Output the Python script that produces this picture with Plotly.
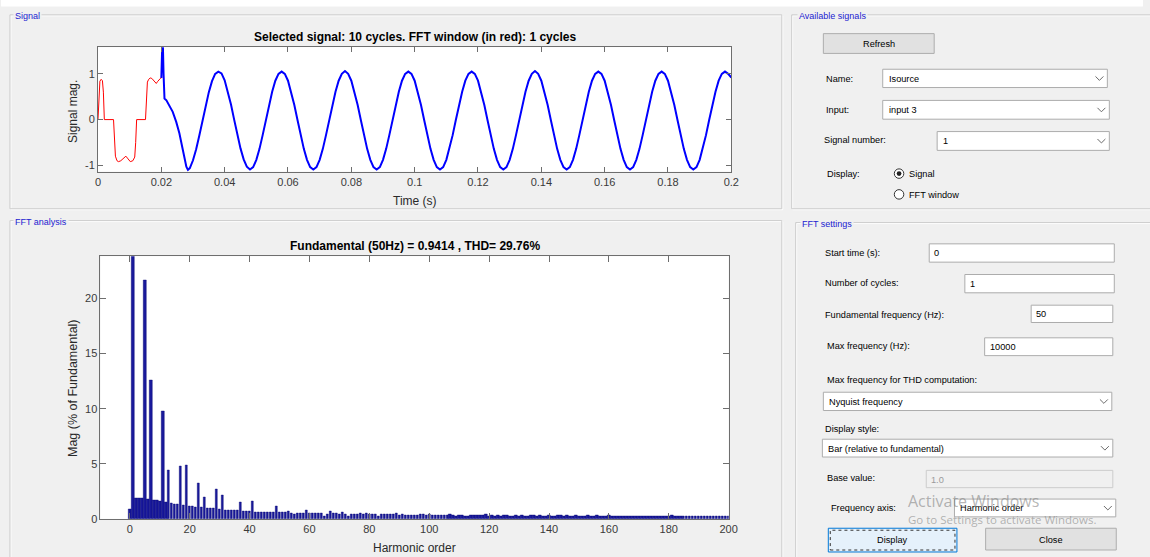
import plotly.graph_objects as go

# ---------------- data ----------------
# FFT window (red), time in s
win_t = [0, 0.0003, 0.0006, 0.001, 0.0014, 0.0017, 0.002, 0.0049, 0.0052, 0.0055,
         0.006, 0.0065, 0.0072, 0.008, 0.0088, 0.0095, 0.0102, 0.011, 0.0116, 0.0119,
         0.0122, 0.015, 0.0153, 0.0156, 0.016, 0.0165, 0.017, 0.0175, 0.018, 0.0184,
         0.0188, 0.0193, 0.0197, 0.02]
win_v = [0, 0.6, 0.84, 0.88, 0.85, 0.6, 0, 0, -0.5, -0.8,
         -0.9, -0.92, -0.9, -0.84, -0.8, -0.86, -0.92, -0.9, -0.82, -0.5,
         0, 0, 0.5, 0.82, 0.88, 0.91, 0.9, 0.86, 0.8, 0.79,
         0.83, 0.88, 0.9, 0.91]

# transient part of the selected signal (blue)
trans_t = [0.02, 0.0202, 0.0204, 0.0207, 0.021, 0.0216, 0.0226, 0.0236, 0.0247, 0.0257,
           0.0266, 0.0273, 0.0279, 0.0284]
trans_v = [0.91, 1.7, 1.9, 1.0, 0.46, 0.42, 0.31, 0.17, -0.05, -0.3,
           -0.6, -0.85, -1.03, -1.1]

# steady part of the selected signal, sampled every 1 ms from 0.029 s to 0.200 s
steady_start = 0.029
steady_dt = 0.001
steady_v = [
    -1.06, -0.89, -0.65, -0.35, -0.02, 0.31, 0.60, 0.84, 1.00, 1.05, 1.01, 0.86, 0.62, 0.33, 0.00, -0.33, -0.63, -0.87, -1.03,
    -1.09, -1.04, -0.88, -0.64, -0.34, -0.01, 0.32, 0.61, 0.85, 1.00, 1.05, 1.00, 0.85, 0.61, 0.32, -0.01, -0.34, -0.64, -0.88, -1.04,
    -1.09, -1.04, -0.88, -0.64, -0.34, -0.01, 0.32, 0.61, 0.85, 1.00, 1.06, 1.00, 0.85, 0.61, 0.32, -0.01, -0.34, -0.64, -0.88, -1.04,
    -1.09, -1.04, -0.88, -0.64, -0.34, -0.01, 0.32, 0.61, 0.85, 1.00, 1.05, 1.00, 0.85, 0.61, 0.32, -0.01, -0.34, -0.64, -0.88, -1.04,
    -1.09, -1.04, -0.88, -0.64, -0.34, -0.01, 0.32, 0.61, 0.85, 1.00, 1.05, 1.00, 0.85, 0.61, 0.32, -0.01, -0.34, -0.64, -0.88, -1.04,
    -1.09, -1.04, -0.88, -0.64, -0.34, -0.01, 0.32, 0.61, 0.85, 1.00, 1.06, 1.00, 0.85, 0.61, 0.32, -0.01, -0.34, -0.64, -0.88, -1.04,
    -1.09, -1.04, -0.88, -0.64, -0.34, -0.01, 0.32, 0.61, 0.85, 1.00, 1.05, 1.00, 0.85, 0.61, 0.32, -0.01, -0.34, -0.64, -0.88, -1.04,
    -1.09, -1.04, -0.88, -0.64, -0.34, -0.01, 0.32, 0.61, 0.85, 1.00, 1.05, 1.00, 0.85, 0.61, 0.32, -0.01, -0.34, -0.64, -0.88, -1.04,
    -1.09, -1.04, -0.88, -0.64, -0.34, -0.01, 0.32, 0.61, 0.85, 1.00, 1.05, 1.00, 0.92,
]

time_ticks = [0, 0.02, 0.04, 0.06, 0.08, 0.1, 0.12, 0.14, 0.16, 0.18, 0.2]
time_ticklabels = ["0", "0.02", "0.04", "0.06", "0.08", "0.1", "0.12", "0.14", "0.16", "0.18", "0.2"]
signal_ticks = [-1, 0, 1]
signal_ticklabels = ["-1", "0", "1"]

# harmonic magnitudes (% of fundamental), orders 0..200
harm_mag = [
    0.9, 100, 1.85, 1.85, 1.83, 21.7, 1.75, 12.6, 1.68, 1.65,
    1.6, 9.8, 1.5, 4.45, 1.4, 1.37, 1.32, 4.75, 1.25, 4.9,
    1.15, 1.13, 1.1, 3.25, 1.03, 1.92, 0.95, 0.93, 0.93, 2.7,
    0.85, 2.18, 0.82, 0.82, 0.8, 0.8, 0.76, 1.5, 0.7, 0.7,
    0.68, 1.6, 0.6, 0.6, 0.62, 0.62, 0.6, 0.6, 0.58, 1.12,
    0.6, 0.58, 0.6, 0.65, 0.55, 0.4, 0.5, 0.52, 0.5, 0.8,
    0.55, 0.55, 0.5, 0.5, 0.48, 0.25, 0.45, 0.7, 0.48, 0.5,
    0.45, 0.62, 0.4, 0.28, 0.45, 0.42, 0.42, 0.5, 0.4, 0.52,
    0.4, 0.42, 0.38, 0.25, 0.38, 0.42, 0.4, 0.38, 0.38, 0.55,
    0.32, 0.38, 0.35, 0.35, 0.33, 0.35, 0.3, 0.45, 0.38, 0.35,
    0.38, 0.33, 0.35, 0.3, 0.32, 0.35, 0.33, 0.42, 0.3, 0.28,
    0.3, 0.3, 0.22, 0.28, 0.32, 0.3, 0.35, 0.3, 0.3, 0.4,
    0.22, 0.3, 0.28, 0.3, 0.28, 0.3, 0.32, 0.28, 0.25, 0.3,
    0.28, 0.3, 0.22, 0.28, 0.3, 0.35, 0.28, 0.3, 0.25, 0.28,
    0.3, 0.22, 0.28, 0.35, 0.3, 0.28, 0.3, 0.28, 0.26, 0.3,
    0.28, 0.27, 0.28, 0.3, 0.26, 0.28, 0.3, 0.27, 0.26, 0.28,
    0.3, 0.22, 0.28, 0.25, 0.27, 0.26, 0.28, 0.25, 0.26, 0.28,
    0.2, 0.26, 0.25, 0.27, 0.25, 0.24, 0.26, 0.25, 0.24, 0.26,
    0.25, 0.3, 0.24, 0.25, 0.24, 0.26, 0.24, 0.25, 0.24, 0.23,
    0.25, 0.24, 0.23, 0.25, 0.24, 0.23, 0.24, 0.23, 0.24, 0.23,
    0.22,
]
harm_order = list(range(len(harm_mag)))
harm_ticks = [0, 20, 40, 60, 80, 100, 120, 140, 160, 180, 200]
mag_ticks = [0, 5, 10, 15, 20]

signal_title = "Selected signal: 10 cycles. FFT window (in red): 1 cycles"
fft_title = "Fundamental (50Hz) = 0.9414 , THD= 29.76%"

# ---------------- geometry helpers ----------------
W, H = 1150, 557
def X(px):
    return px / W
def Y(py):
    return 1 - py / H

steady_t = [round(steady_start + steady_dt * i, 4) for i in range(len(steady_v))]
sig_t = trans_t + steady_t
sig_v = trans_v + steady_v

AX_FONT = "Liberation Sans, Arial, sans-serif"
GUI_FONT = "Liberation Sans, Arial, sans-serif"
BG = "#f0f0f0"

fig = go.Figure()
fig.add_trace(go.Scatter(x=sig_t, y=sig_v, mode="lines", line=dict(color="#0000ff", width=2),
                         xaxis="x", yaxis="y", showlegend=False, hoverinfo="skip"))
fig.add_trace(go.Scatter(x=win_t, y=win_v, mode="lines", line=dict(color="#ff0000", width=1),
                         xaxis="x", yaxis="y", showlegend=False, hoverinfo="skip"))
fig.add_trace(go.Bar(x=harm_order, y=harm_mag, width=0.82,
                     marker=dict(color="#1a1a9c", line=dict(width=0.4, color="#000070")),
                     xaxis="x2", yaxis="y2", showlegend=False, hoverinfo="skip"))

axis_common = dict(showline=True, linecolor="#6e6e6e", linewidth=1, mirror="ticks", ticks="inside",
                   tickcolor="#6e6e6e", showgrid=False, zeroline=False,
                   tickfont=dict(family=AX_FONT, size=11, color="#3a3a3a"))

shapes = []
annotations = []

def rect(x0, y0, x1, y1, fill="rgba(0,0,0,0)", line="#adadad", lw=1, dash="solid"):
    shapes.append(dict(type="rect", xref="paper", yref="paper", x0=X(x0), x1=X(x1), y0=Y(y1), y1=Y(y0),
                       fillcolor=fill, line=dict(color=line, width=lw, dash=dash)))

def circle(cx, cy, r, fill, line, lw=1):
    shapes.append(dict(type="circle", xref="paper", yref="paper", x0=X(cx - r), x1=X(cx + r),
                       y0=Y(cy + r), y1=Y(cy - r), fillcolor=fill, line=dict(color=line, width=lw)))

def chevron(cx, cy):
    path = f"M {X(cx-4)},{Y(cy-2)} L {X(cx)},{Y(cy+2)} L {X(cx+4)},{Y(cy-2)}"
    shapes.append(dict(type="path", xref="paper", yref="paper", path=path, line=dict(color="#6a6a6a", width=1)))

def text(x, y, s, size=9.2, color="#000000", xanchor="left", bold=False, bg=None, angle=0, family=GUI_FONT):
    a = dict(x=X(x), y=Y(y), xref="paper", yref="paper", text=f"<b>{s}</b>" if bold else s, showarrow=False,
             xanchor=xanchor, yanchor="middle", font=dict(family=family, size=size, color=color), textangle=angle)
    if bg:
        a["bgcolor"] = bg
        a["borderpad"] = 1
    annotations.append(a)

def panel(x0, y0, x1, y1, title, tx):
    rect(x0 + 1, y0 + 1, x1 + 1, y1 + 1, line="#ffffff")
    rect(x0, y0, x1, y1, line="#cdcdcd")
    text(tx, y0 + 1, title, size=9, color="#1c1cd0", bg=BG)

def dropdown(x0, y0, x1, y1, s):
    rect(x0, y0, x1, y1, fill="#ffffff", line="#acacac")
    text(x0 + 4, (y0 + y1) / 2 + 0.5, s)
    chevron(x1 - 8, (y0 + y1) / 2)

def textbox(x0, y0, x1, y1, s, fill="#ffffff", color="#000000", line="#acacac"):
    rect(x0, y0, x1, y1, fill=fill, line=line)
    text(x0 + 3, (y0 + y1) / 2 + 0.5, s, color=color)

# top white strip
rect(-2, -2, 1152, 6.5, fill="#ffffff", line="rgba(0,0,0,0)", lw=0)

# panels
panel(7, 15, 787, 211, "Signal", 10)
panel(7, 223, 787, 600, "FFT analysis", 10)
panel(797, 15, 1160, 211, "Available signals", 802)
panel(801, 225, 1160, 600, "FFT settings", 805)

# Available signals widgets
rect(829, 34, 941, 54, fill="#e1e1e1", line="#adadad")
text(885, 44.5, "Refresh", xanchor="center")
text(830, 79.5, "Name:")
dropdown(889, 70, 1116, 88.5, "Isource")
text(830, 111, "Input:")
dropdown(889, 101.5, 1118, 120.5, "input 3")
text(828, 142, "Signal number:")
dropdown(944, 133, 1118, 152, "1")
text(831, 175.5, "Display:")
circle(905.5, 175.5, 4.8, "#ffffff", "#333333")
circle(905.5, 175.5, 2.4, "#222222", "#222222", lw=0)
text(914, 176, "Signal")
circle(905.5, 196.5, 4.8, "#ffffff", "#333333")
text(914, 197, "FFT window")

# FFT settings widgets
text(829, 256, "Start time (s):")
textbox(936, 246.5, 1123, 265, "0")
text(829, 286.5, "Number of cycles:")
textbox(972, 277.5, 1123, 296, "1")
text(829, 318, "Fundamental frequency (Hz):")
textbox(1039, 308.5, 1121.5, 326, "50")
text(831, 350, "Max frequency (Hz):")
textbox(992, 341.5, 1121.5, 359.5, "10000")
text(831, 384, "Max frequency for THD computation:")
dropdown(829, 396.5, 1120.5, 415, "Nyquist frequency")
text(829, 433.5, "Display style:")
dropdown(828, 444, 1121.5, 462, "Bar (relative to fundamental)")
text(831, 483, "Base value:")
textbox(933, 475.5, 1121.5, 493, "1.0", fill="#f0f0f0", color="#9a9a9a", line="#cccccc")
text(835, 514, "Frequency axis:")
dropdown(961.5, 504.5, 1124.5, 522.5, "Harmonic order")
rect(834, 534, 964, 558, fill="#e5f1fb", line="#0078d7")
rect(836, 536, 962, 556, line="#333333", dash="dot")
text(899, 546, "Display", xanchor="center")
rect(993, 534, 1125, 556, fill="#e1e1e1", line="#adadad")
text(1059, 545.5, "Close", xanchor="center")

# watermark
text(913, 506, "Activate Windows", size=16, color="rgba(120,120,120,0.55)", family="Open Sans, Noto Sans, sans-serif")
text(913, 525, "Go to Settings to activate Windows.", size=11.5, color="rgba(120,120,120,0.55)", family="Open Sans, Noto Sans, sans-serif")

# axes titles / labels
text(416, 37.5, signal_title, size=12, bold=True, xanchor="center", family=AX_FONT)
text(416, 248.5, fft_title, size=12, bold=True, xanchor="center", family=AX_FONT)
text(416, 203, "Time (s)", size=12, color="#2a2a2a", xanchor="center", family=AX_FONT)
text(416, 553.5, "Harmonic order", size=12, color="#2a2a2a", xanchor="center", family=AX_FONT)
text(71, 113, "Signal mag.", size=12, color="#2a2a2a", xanchor="center", angle=-90, family=AX_FONT)
text(71, 392, "Mag (% of Fundamental)", size=12.5, color="#2a2a2a", xanchor="center", angle=-90, family=AX_FONT)

fig.update_layout(
    width=W, height=H, margin=dict(l=0, r=0, t=0, b=0),
    paper_bgcolor=BG, plot_bgcolor="#ffffff",
    xaxis=dict(domain=[X(96), X(736)], range=[0, 0.2], anchor="y", tickvals=time_ticks,
               ticktext=time_ticklabels, ticklen=5, **axis_common),
    yaxis=dict(domain=[Y(173.5), Y(47.7)], range=[-1.138, 1.583], anchor="x", tickvals=signal_ticks,
               ticktext=signal_ticklabels, ticklen=5, **axis_common),
    xaxis2=dict(domain=[X(98.5), X(733.3)], range=[-9.8, 200], anchor="y2", tickvals=harm_ticks,
                ticklen=6, **axis_common),
    yaxis2=dict(domain=[Y(524.5), Y(259)], range=[0, 23.84], anchor="x2", tickvals=mag_ticks,
                ticklen=6, **axis_common),
    bargap=0,
    shapes=shapes,
    annotations=annotations,
)

fig.write_html("out.html")
